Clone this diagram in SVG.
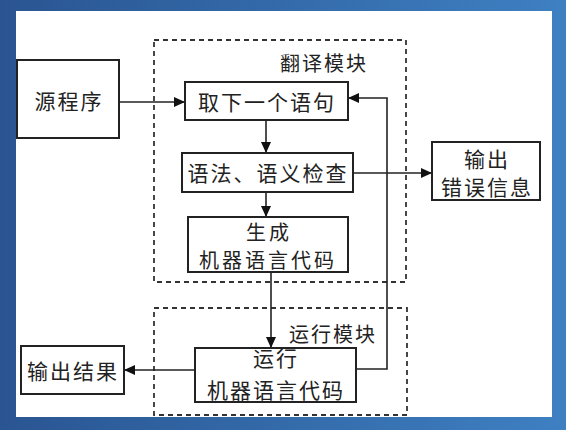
<svg xmlns="http://www.w3.org/2000/svg" width="566" height="430" viewBox="0 0 566 430">
<defs>
<linearGradient id="bg" x1="0" y1="0" x2="1" y2="0">
<stop offset="0" stop-color="#2a5592"/>
<stop offset="1" stop-color="#3e80c2"/>
</linearGradient>
<marker id="ah" markerUnits="userSpaceOnUse" markerWidth="12" markerHeight="10" refX="11" refY="5" orient="auto">
<path d="M0,0 L11,5 L0,10 Z" fill="#111"/>
</marker>
<style>
.box{fill:#fff;stroke:#222;stroke-width:2}
.dash{fill:none;stroke:#333;stroke-width:1.8;stroke-dasharray:5 4}
.ln{fill:none;stroke:#222;stroke-width:1.6}
.t{font-family:"Noto Sans CJK SC","Noto Sans CJK JP",sans-serif;font-size:21px;fill:#222;text-anchor:middle;dominant-baseline:central;letter-spacing:2px}
.lbl{font-size:20px}
.sm{font-size:20px;letter-spacing:3px}
</style>
</defs>
<rect x="0" y="0" width="566" height="430" fill="url(#bg)"/>
<rect x="16" y="11" width="536" height="406" fill="#fff"/>

<g id="translate-module">
<rect class="dash" x="154" y="40" width="252" height="242"/>
<text class="t lbl" x="324" y="62">翻译模块</text>
</g>
<g id="run-module">
<rect class="dash" x="154" y="308" width="253" height="107"/>
<text class="t lbl" x="333" y="333">运行模块</text>
</g>

<g id="connectors">
<line class="ln" x1="119" y1="102" x2="185" y2="102" marker-end="url(#ah)"/>
<line class="ln" x1="266" y1="120" x2="266" y2="153" marker-end="url(#ah)"/>
<line class="ln" x1="266" y1="192" x2="266" y2="217" marker-end="url(#ah)"/>
<line class="ln" x1="271" y1="272" x2="271" y2="348" marker-end="url(#ah)"/>
<line class="ln" x1="353" y1="173" x2="432" y2="173" marker-end="url(#ah)"/>
<polyline class="ln" points="356,369 387,369 387,98 348,98" marker-end="url(#ah)"/>
<line class="ln" x1="195" y1="370" x2="124" y2="370" marker-end="url(#ah)"/>
</g>

<g id="source">
<rect class="box" x="17" y="60" width="102" height="78"/>
<text class="t" x="69" y="100">源程序</text>
</g>
<g id="fetch">
<rect class="box" x="185" y="82" width="163" height="38"/>
<text class="t" x="267" y="101">取下一个语句</text>
</g>
<g id="check">
<rect class="box" x="182" y="153" width="171" height="39"/>
<text class="t" x="268" y="172">语法、语义检查</text>
</g>
<g id="generate">
<rect class="box" x="188" y="217" width="160" height="55"/>
<text class="t sm" x="269" y="231">生成</text>
<text class="t sm" x="268" y="259">机器语言代码</text>
</g>
<g id="error-out">
<rect class="box" x="432" y="142" width="108" height="58"/>
<text class="t" x="487" y="158">输出</text>
<text class="t" x="487" y="186">错误信息</text>
</g>
<g id="run">
<rect class="box" x="195" y="348" width="161" height="54"/>
<text class="t" x="276" y="357">运行</text>
<text class="t" x="276" y="389">机器语言代码</text>
</g>
<g id="result">
<rect class="box" x="21" y="346" width="103" height="48"/>
<text class="t" x="73" y="370">输出结果</text>
</g>
</svg>
